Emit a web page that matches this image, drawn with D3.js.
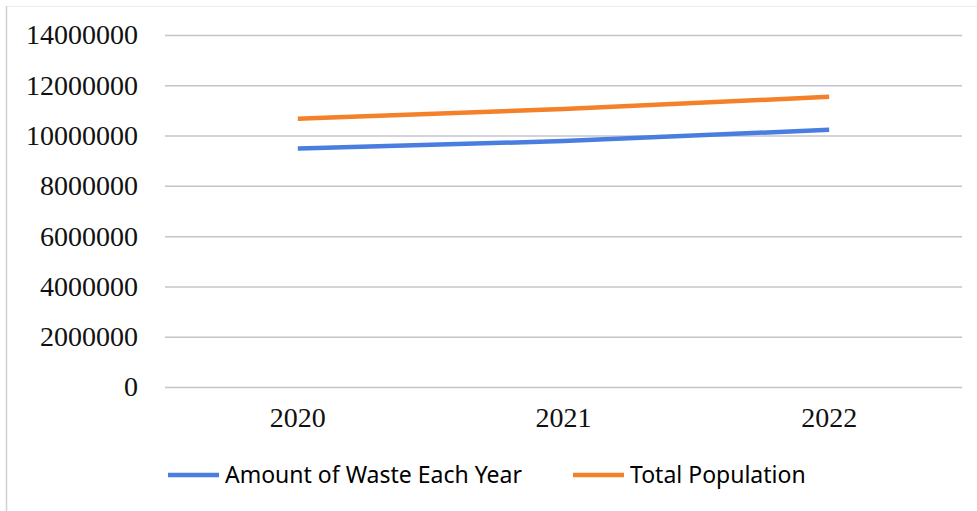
<!DOCTYPE html>
<html>
<head>
<meta charset="utf-8">
<script src="https://cdn.jsdelivr.net/npm/d3@7"></script>
<style>
  html, body { margin: 0; padding: 0; background: #fff; }
  svg { display: block; }
</style>
</head>
<body>
<div id="chart"></div>
<script>
// data
const years = ['2020', '2021', '2022'];
const wasteValues = [9490000, 9780000, 10230000];
const populationValues = [10670000, 11060000, 11540000];
const yTicks = [0, 2000000, 4000000, 6000000, 8000000, 10000000, 12000000, 14000000];
const seriesNames = ['Amount of Waste Each Year', 'Total Population'];
const seriesColors = ['#4a7de0', '#f5802a'];

const width = 977, height = 511;
const margin = { top: 35, right: 15, bottom: 124, left: 165 };

const svg = d3.select('#chart').append('svg')
        .attr('width', width)
        .attr('height', height);

// faint frame round the picture
svg.append('rect')
        .attr('x', 6.5).attr('y', 6.5)
        .attr('width', width - 6).attr('height', height - 6)
        .attr('fill', 'none')
        .attr('stroke', '#ececec');
svg.append('line')
        .attr('x1', 6.5).attr('x2', 6.5)
        .attr('y1', 6).attr('y2', height)
        .attr('stroke', '#d0d0d0')
        .attr('stroke-width', 1.5);

const x = d3.scaleBand()
        .domain(years)
        .range([margin.left, width - margin.right]);

const y = d3.scaleLinear()
        .domain([0, 14000000])
        .range([height - margin.bottom, margin.top]);

// gridlines + y labels
const yAxis = svg.append('g')
        .attr('transform', `translate(${margin.left},0)`)
        .call(d3.axisLeft(y).tickValues(yTicks).tickFormat(d3.format('d'))
                .tickSize(-(width - margin.left - margin.right)).tickPadding(27));
yAxis.select('.domain').remove();
yAxis.selectAll('.tick line')
        .attr('stroke', '#c4c4cc')
        .attr('stroke-width', 1.5);
yAxis.selectAll('.tick text')
        .attr('fill', '#111')
        .style('font-family', '"Liberation Serif", "Times New Roman", serif')
        .style('font-size', '28px');

// x labels
const xAxis = svg.append('g')
        .attr('transform', `translate(0,${height - margin.bottom})`)
        .call(d3.axisBottom(x).tickSize(0).tickPadding(20));
xAxis.select('.domain').remove();
xAxis.selectAll('.tick text')
        .attr('fill', '#111')
        .style('font-family', '"Liberation Serif", "Times New Roman", serif')
        .style('font-size', '28px');

const series = [wasteValues, populationValues];

const line = d3.line()
        .x((d, i) => x(years[i]) + x.bandwidth() / 2)
        .y(d => y(d))
        .curve(d3.curveMonotoneX);

series.forEach((vals, i) => {
        svg.append('path')
        .datum(vals)
        .attr('d', line)
        .attr('fill', 'none')
        .attr('stroke', seriesColors[i])
        .attr('stroke-width', 4.5);
});

// legend
const legendX = [168, 573];
const legendY = 475;
seriesNames.forEach((name, i) => {
        const g = svg.append('g').attr('transform', `translate(${legendX[i]},${legendY})`);
        g.append('line')
        .attr('x1', 0).attr('x2', 51)
        .attr('y1', 0).attr('y2', 0)
        .attr('stroke', seriesColors[i])
        .attr('stroke-width', 4.5);
        g.append('text')
        .attr('x', 57)
        .attr('y', 0)
        .attr('dy', '0.35em')
        .attr('fill', '#000')
        .style('font-family', '"Noto Sans", "Open Sans", sans-serif')
        .style('font-size', '23px')
        .text(name);
});
</script>
</body>
</html>
